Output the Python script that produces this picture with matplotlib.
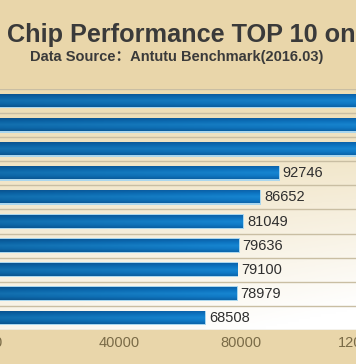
import numpy as np
import matplotlib.pyplot as plt
from matplotlib.colors import LinearSegmentedColormap

# values (top three run past the visible edge of the picture)
chips = ['chip1', 'chip2', 'chip3', 'chip4', 'chip5',
         'chip6', 'chip7', 'chip8', 'chip9', 'chip10']
scores = [135000, 130000, 126000, 92746, 86652, 81049, 79636, 79100, 78979, 68508]
xticks = [0, 40000, 80000, 120000]

title = 'Chip Performance TOP 10 on'
subtitle = 'Data Source\uff1aAntutu Benchmark(2016.03)'

plt.rcParams['font.family'] = ['Liberation Sans', 'Noto Sans CJK SC', 'DejaVu Sans']

W, H = 356, 364
fig = plt.figure(figsize=(W / 100, H / 100), dpi=100)
fig.patch.set_facecolor('#e9d6aa')

top, bottom = 89, 330
ax = fig.add_axes([-2 / W, (H - bottom) / H, 364.5 / W, (bottom - top) / H])
ax.set_facecolor('#f4ead2')

# background gradient: tan at top, white towards bottom right
gy, gx = np.mgrid[0:1:100j, 0:1:100j]
t = np.clip(0.75 * gy + 0.35 * gx * gy, 0, 1)
bg_cmap = LinearSegmentedColormap.from_list('bg', ['#ecdcb2', '#f5edd9', '#ffffff'])
ax.imshow(bg_cmap(t), extent=(0, 1, 0, 1), transform=ax.transAxes,
          aspect='auto', zorder=0, origin='upper')

n = len(scores)
ypos = np.arange(n)
h = 0.54

# row separators
for b in np.arange(-0.5, n + 0.5, 1):
    ax.axhline(b, color='#c9bea3', lw=1.0, zorder=1)

bar_cmap = LinearSegmentedColormap.from_list(
    'bar', ['#0b5c9f', '#0c6db5', '#157cc2', '#0f72b9', '#0b5e9f'])
vg = np.linspace(0, 1, 40)[:, None]
hg = np.linspace(0, 1, 60)[None, :]
grad = bar_cmap(vg * np.ones_like(hg))
grad[..., :3] = np.clip(grad[..., :3] * (0.9 + 0.18 * hg[..., None]), 0, 1)

xmax = xticks[-1]
ax.barh(ypos, scores, height=h + 0.07, color='#a9d6ee', edgecolor='none', zorder=2)
for y, v in zip(ypos, scores):
    ax.imshow(grad, extent=(0, v - 400, y + h / 2 - 0.02, y - h / 2 + 0.02),
              aspect='auto', zorder=3, origin='upper')
    if v < xmax * 0.9:
        ax.text(v + 900, y, str(v), va='center', ha='left', fontsize=10.5,
                color='#2e2e2e', zorder=4)

ax.set_xlim(0, xmax)
ax.set_ylim(n - 0.5, -0.5)
ax.set_xticks(xticks)
ax.set_xticklabels([str(x) for x in xticks], fontsize=10.5, color='#7a6b47')
ax.tick_params(axis='x', length=0, pad=4)
ax.set_yticks([])
for s in ax.spines.values():
    s.set_visible(False)

fig.text(7 / W, 1 - 35 / H, title, fontsize=18.2, fontweight='bold',
         color='#3a3a3a', va='center', ha='left')
fig.text(30 / W, 1 - 57 / H, subtitle, fontsize=10.5, fontweight='bold',
         color='#3a3a3a', va='center', ha='left')

fig.savefig('out.png', dpi=100, facecolor=fig.get_facecolor())
